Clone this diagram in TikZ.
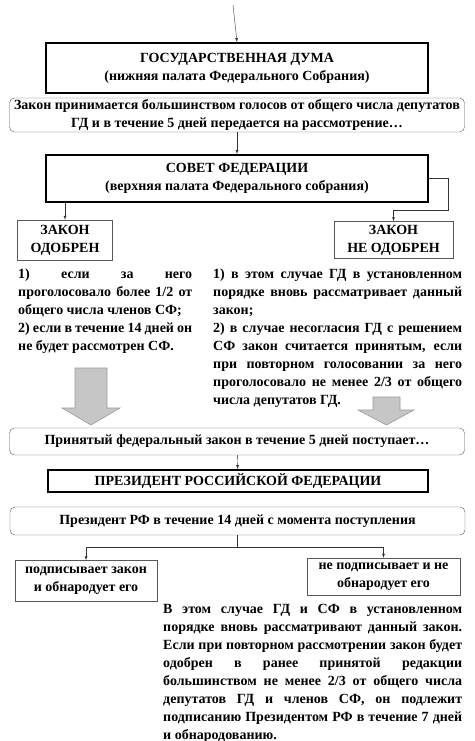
\documentclass[tikz,border=0pt]{standalone}
\usepackage{fontspec}
\setmainfont{Liberation Serif}
\usepackage{tikz}
\usetikzlibrary{arrows}

\begin{document}
\begin{tikzpicture}[x=1pt,y=-1pt,>=latex,
	every node/.style = {font=\bfseries\fontsize{14}{18}\selectfont},
	organ/.style = {draw,line width=1.8pt,align=center,inner sep=0pt},
	etap/.style = {draw=gray!70!black,rounded corners=5pt,align=center,inner sep=0pt},
	itog/.style = {draw=gray!70!black,align=center,inner sep=0pt},
	poyasn/.style = {align=justify,inner sep=0pt,anchor=north west},
	svyaz/.style = {gray!40!black,thin},
	strelka/.style = {draw=gray!80,fill=gray!45,line width=0.6pt}
	]
	\useasboundingbox (0,0) rectangle (474,741);
	%ОРГАНЫ
	\node[organ,minimum width=382,minimum height=50] (gd) at (237,68) {ГОСУДАРСТВЕННАЯ ДУМА\\(нижняя палата Федерального Собрания)};
	\node[etap,minimum width=455,minimum height=34] (prinyatie) at (237,115) {Закон принимается большинством голосов от общего числа депутатов\\ГД и в течение 5 дней передается на рассмотрение…};
	\node[organ,minimum width=382,minimum height=47] (sf) at (237,178.5) {СОВЕТ ФЕДЕРАЦИИ\\(верхняя палата Федерального собрания)};
	%РЕШЕНИЯ СФ
	\node[itog,minimum width=95,minimum height=40] (odobren) at (65,240) {ЗАКОН\\ОДОБРЕН};
	\node[itog,minimum width=119,minimum height=37] (neodobren) at (393.5,240) {ЗАКОН\\НЕ ОДОБРЕН};
	\node[poyasn,text width=174] (usl1) at (18,269) {1) если за него\linebreak проголосовало более 1/2 от\linebreak общего числа членов СФ;\\2) если в течение 14 дней он\linebreak не будет рассмотрен СФ.};
	\node[poyasn,text width=249] (usl2) at (213,269) {1) в этом случае ГД в установленном\linebreak порядке вновь рассматривает данный\linebreak закон;\\2) в случае несогласия ГД с решением\linebreak СФ закон считается принятым, если\linebreak при повторном голосовании за него\linebreak проголосовало не менее 2/3 от общего\linebreak числа депутатов ГД.};
	%ПРЕЗИДЕНТ
	\node[etap,minimum width=455,minimum height=27] (postupaet) at (237,441.5) {Принятый федеральный закон в течение 5 дней поступает…};
	\node[organ,minimum width=380,minimum height=22] (prez) at (238,481) {ПРЕЗИДЕНТ РОССИЙСКОЙ ФЕДЕРАЦИИ};
	\node[etap,minimum width=455,minimum height=28] (srok) at (237.5,521) {Президент РФ в течение 14 дней с момента поступления};
	\node[itog,minimum width=142,minimum height=41] (podp) at (86,581) {подписывает закон\\и обнародует его};
	\node[itog,minimum width=153,minimum height=37] (nepodp) at (383.5,576.5) {не подписывает и не\\обнародует его};
	\node[poyasn,text width=299] (veto) at (163,604) {В этом случае ГД и СФ в установленном\linebreak порядке вновь рассматривают данный закон.\linebreak Если при повторном рассмотрении закон будет\linebreak одобрен в ранее принятой редакции\linebreak большинством не менее 2/3 от общего числа\linebreak депутатов ГД и членов СФ, он подлежит\linebreak подписанию Президентом РФ в течение 7 дней\linebreak и обнародованию.};
	%Связи
	\coordinate (vhod) at (233,5);
	\draw[svyaz,->] (vhod) -- (gd.north);
	\draw[svyaz,->] (prinyatie) -- (sf);
	\draw[svyaz,->] (sf.south -| odobren.north) -- (odobren.north);
	\draw[svyaz,->] (sf.east) -- ++(19,0) -- ++(0,32) -| (neodobren.north);
	\draw[svyaz,->] (postupaet) -- (prez);
	\draw[svyaz] (srok.south) -- ++(0,12) coordinate (razvilka);
	\draw[svyaz,->] (razvilka) -| (podp.north);
	\draw[svyaz,->] (razvilka) -| (nepodp.north);
	%Большие стрелки
	\draw[strelka] (75,368) -- (107,368) -- (107,408) -- (120,408) -- (91,425) -- (62,408) -- (75,408) -- cycle;
	\draw[strelka] (373,397) -- (400,397) -- (400,410) -- (414,410) -- (386.5,425) -- (358,410) -- (373,410) -- cycle;
\end{tikzpicture}
\end{document}
